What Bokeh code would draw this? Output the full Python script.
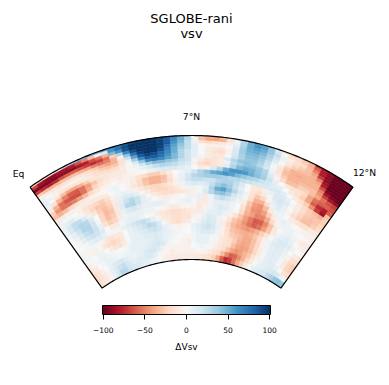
import numpy as np
from bokeh.plotting import figure
from bokeh.models import ColumnDataSource, LinearColorMapper, ColorBar, FixedTicker
from bokeh.core.properties import value
from bokeh.transform import transform
from bokeh.embed import file_html
from bokeh.resources import INLINE

title_lines = ["SGLOBE-rani", "vsv"]
range_labels = ["Eq", "7°N", "12°N"]
cbar_ticks = [-100, -50, 0, 50, 100]
cbar_labels = ["−100", "−50", "0", "50", "100"]
cbar_title = "ΔVsv"

radius_edges = [278,276,273,270,267,264,261,258,255,252,248,244,240,236,232,228,224,220,215,210,205,200,195,190,185,180,175,170,165,160,154]
half_span = 35.5
n_cols = 48

r00 = [-25,-25,-20,-10,5,25,35,45,45,50,55,60, 65,75,85,90,95,100,100,95,85,70,50,35, 5,-25,-35,-40,-30,-15,10,30,50,60,55,40, 10,-20,-25,-25,-30,-35,-75,-85,-90,-100,-100,-100]
r01 = [-70,-85,-90,-90,-85,-85,-80,-65,-50,-30,-5,15, 60,75,90,100,100,100,100,95,85,65,50,30, -5,-30,-40,-40,-35,-15,5,30,50,60,55,40, 20,0,-15,-20,-25,-35,-60,-80,-90,-100,-100,-100]
r02 = [-95,-95,-95,-95,-90,-90,-90,-85,-80,-65,-55,-35, 45,60,88,100,100,100,100,95,85,60,45,25, 5,-15,-20,-15,-10,-5,10,32,50,55,50,38, 25,5,-5,-15,-20,-30,-50,-80,-90,-100,-100,-100]
r03 = [-70,-75,-80,-75,-65,-60,-60,-65,-70,-75,-70,-55, -25,30,65,90,100,100,100,95,75,55,40,25, 10,0,-5,-5,-5,0,15,35,48,50,45,32, 20,5,-10,-20,-25,-30,-40,-70,-90,-100,-100,-100]
r04 = [-25,-30,-35,-35,-30,-30,-30,-35,-40,-50,-55,-50, -35,-5,40,75,95,100,100,90,70,50,35,25, 10,0,-8,-12,-15,-5,15,35,45,45,40,28, 15,0,-15,-25,-30,-30,-35,-50,-85,-100,-100,-100]
r05 = [-5,-8,-12,-15,-15,-12,-12,-15,-20,-25,-35,-40, -35,-15,20,55,85,95,90,80,65,50,30,20, 10,0,-10,-15,-18,-5,18,32,42,42,35,22, 5,-10,-25,-35,-35,-35,-35,-40,-80,-100,-100,-100]
r06 = [5,0,-5,-8,-5,-3,-5,-8,-12,-20,-25,-28, -28,-15,5,35,65,85,85,75,60,45,30,20, 10,0,-8,-12,-12,0,20,32,40,40,32,20, 2,-15,-30,-35,-38,-35,-35,-35,-65,-95,-100,-100]
r07 = [8,5,-5,-12,-15,-15,-12,-8,-10,-15,-18,-20, -18,-10,0,15,40,65,70,65,55,45,30,20, 8,-5,-10,-15,-10,15,30,40,42,38,28,18, 5,-15,-30,-35,-35,-35,-35,-35,-50,-85,-95,-100]
r08 = [10,0,-15,-30,-40,-40,-35,-25,-15,-12,-12,-12, -12,-8,-3,5,20,35,45,45,40,35,25,20, 3,-10,-18,-15,-10,5,25,35,42,42,38,30, 8,-10,-25,-35,-35,-30,-30,-30,-45,-70,-85,-90]
r09 = [5,-15,-35,-50,-60,-62,-55,-42,-28,-18,-12,-10, -10,-8,-3,3,8,15,25,30,28,25,20,15, -5,-18,-22,-15,-10,10,30,45,50,48,40,32, 15,-5,-20,-30,-30,-25,-25,-30,-40,-55,-65,-70]
r10 = [-8,-35,-55,-62,-65,-65,-55,-38,-22,-12,-8,-5, -8,-5,-5,-3,0,5,10,15,15,15,12,8, 0,-8,-5,15,30,50,60,60,58,50,42,35, 22,10,0,-10,-15,-15,-20,-40,-55,-60,-60,-65]
r11 = [-25,-45,-55,-55,-50,-42,-32,-20,-12,-5,-3,0, -5,-5,-8,-15,-20,-25,-25,-18,-8,0,5,10, 20,30,40,50,55,60,55,45,38,32,28,22, 18,12,10,0,-10,-15,-25,-40,-60,-75,-80,-60]
r12 = [-30,-35,-30,-22,-15,-10,-8,-5,-3,0,3,5, 0,-3,-8,-20,-30,-35,-35,-30,-15,-2,8,18, 28,32,35,35,35,32,28,28,25,22,18,15, 15,15,15,10,0,-8,-15,-25,-45,-70,-85,-30]
r13 = [-10,-8,-5,-5,-5,-8,-8,-10,-10,-8,0,5, 0,-5,-12,-20,-28,-35,-35,-28,-18,-5,10,20, 25,25,22,22,28,32,32,25,15,0,-12,-12, -5,8,15,15,8,0,-10,-20,-25,-30,-35,-25]
r14 = [5,3,3,0,-5,-15,-18,-22,-25,-18,-5,5, 8,5,-5,-12,-18,-22,-22,-18,-12,-5,5,12, 15,12,15,25,35,42,35,22,10,0,-12,-18, -10,3,15,18,12,3,-8,-18,-25,-28,-28,-25]
r15 = [5,10,12,5,-3,-12,-22,-28,-28,-22,-8,8, 15,15,8,-2,-10,-18,-22,-22,-18,-12,-5,5, 5,3,10,30,50,55,42,28,15,5,-15,-28, -22,-5,10,15,10,0,-12,-22,-28,-30,-28,-22]
r16 = [5,15,25,25,15,5,-12,-25,-30,-25,-10,10, 22,28,22,10,2,-8,-15,-18,-18,-15,-12,-8, -5,3,15,28,40,42,32,18,10,3,-18,-35, -35,-18,5,12,8,-5,-18,-25,-30,-30,-25,-18]
r17 = [5,15,25,30,28,15,0,-22,-32,-28,-10,12, 28,30,22,10,5,0,-5,-8,-5,-3,0,5, 5,8,-8,5,20,25,20,12,5,-8,-28,-42, -45,-32,-10,5,5,0,-8,-12,-15,-15,-10,-8]
r18 = [3,10,20,30,30,20,3,-22,-30,-25,-10,8, 15,18,12,8,8,10,10,5,0,3,5,8, 3,-8,-10,5,10,10,10,5,0,-15,-32,-45, -48,-42,-25,-8,5,8,5,0,-3,-5,-5,-5]
r19 = [0,5,15,25,28,22,8,-15,-25,-22,-8,5, 8,8,8,5,5,3,-3,-5,-10,-8,-5,-3, -5,-12,-5,5,10,15,12,5,0,-20,-35,-42, -50,-50,-38,-20,-5,5,5,5,3,0,-3,-5]
r20 = [0,3,10,18,22,20,12,0,-10,-8,3,8, 10,10,5,0,-3,-8,-12,-15,-18,-18,-15,-12, -8,-8,5,10,10,12,5,-5,-15,-28,-42,-52, -62,-60,-48,-30,-12,0,5,8,5,-5,-10,-10]
r21 = [0,0,3,8,12,12,8,3,-3,3,8,12, 18,22,25,20,10,3,-8,-12,-15,-18,-15,-15, -5,-3,8,15,12,5,-3,-15,-28,-35,-45,-55, -60,-55,-42,-28,-10,5,10,12,8,0,-5,-8]
r22 = [3,-3,-3,3,3,-5,-12,-15,-10,-10,0,8, 12,15,22,28,25,15,3,-8,-15,-18,-12,-8, 0,5,12,18,15,5,-8,-22,-32,-38,-42,-45, -42,-35,-25,-12,0,10,15,15,12,5,0,-3]
r23 = [5,3,-5,-5,-3,-12,-18,-22,-18,-12,0,8, 10,12,15,20,22,18,10,5,-3,-5,-3,0, 8,12,18,22,18,8,-5,-18,-28,-32,-35,-38, -35,-28,-18,-5,5,12,15,12,8,0,-8,-12]
r24 = [-3,3,0,5,5,0,-8,-15,-15,-8,3,8, 10,10,12,12,15,12,10,8,5,3,0,0, 5,10,15,15,12,5,-5,-15,-25,-28,-32,-38, -38,-30,-20,-5,5,10,12,12,5,-5,-15,-20]
r25 = [-8,-3,3,5,8,5,3,0,0,3,8,10, 8,8,10,12,15,12,8,5,3,0,-3,-3, 3,8,8,8,3,-3,-10,-15,-18,-25,-35,-40, -38,-30,-20,-8,3,10,12,10,3,-8,-22,-25]
r26 = [-12,-8,0,3,8,8,5,3,5,5,8,8, 8,10,12,15,18,15,8,3,0,-3,-5,-8, 3,8,8,8,3,-5,-10,-15,-18,-30,-40,-42, -40,-32,-22,-10,3,10,12,10,3,-10,-22,-25]
r27 = [-18,-12,-5,0,8,12,15,18,12,8,5,8, 10,15,18,18,12,5,-3,-5,-5,-3,-5,-5, 0,3,5,3,-3,-8,-12,-18,-28,-40,-45,-42, -35,-28,-15,-5,5,10,12,12,8,0,-15,-18]
r28 = [-20,-15,-8,-3,8,15,22,25,18,12,10,12, 12,15,15,10,3,-3,-5,-8,-5,-5,-5,-5, -5,-3,-3,-5,-10,-15,-20,-32,-48,-60,-58,-48, -35,-22,-10,0,8,10,12,15,18,15,8,3]
r29 = [-15,-12,-8,-3,8,18,28,28,20,15,15,12, 10,8,5,3,0,-5,-8,-8,-8,-8,-8,-8, -8,-10,-12,-15,-18,-25,-40,-60,-75,-70,-55,-38, -25,-12,0,8,12,15,18,25,32,40,42,38]
rows = [r00,r01,r02,r03,r04,r05,r06,r07,r08,r09,r10,r11,r12,r13,r14,r15,r16,r17,r18,r19,r20,r21,r22,r23,r24,r25,r26,r27,r28,r29]
assert len(rows) == len(radius_edges) - 1
assert all(len(r) == n_cols for r in rows), [len(r) for r in rows]

anchors = ["#67001f","#b2182b","#d6604d","#f4a582","#fddbc7","#f7f7f7","#d1e5f0","#92c5de","#4393c3","#2166ac","#053061"]
rgb = np.array([[int(a[i:i+2], 16) for i in (1, 3, 5)] for a in anchors], float)
t = np.linspace(0, 10, 256)
palette = ["#%02x%02x%02x" % tuple(int(round(np.interp(v, range(11), rgb[:, c]))) for c in range(3)) for v in t]
mapper = LinearColorMapper(palette=palette, low=-101, high=101)

W, H = 381, 377
cx, cy = 191, 385 - 413

p = figure(width=W, height=H, x_range=(0, W), y_range=(385 - H, 385),
           toolbar_location=None, output_backend="svg", min_border=0)
p.xaxis.visible = False
p.yaxis.visible = False
p.grid.visible = False
p.outline_line_color = None

def pol(r, a):
    a = np.radians(a)
    return cx + r * np.sin(a), cy + r * np.cos(a)

edges = np.linspace(-half_span, half_span, n_cols + 1)
xs, ys, vals = [], [], []
for i, row in enumerate(rows):
    r_o, r_i = radius_edges[i], radius_edges[i + 1]
    for j, v in enumerate(row):
        aa = np.linspace(edges[j], edges[j + 1], 3)
        xo, yo = pol(r_o, aa)
        xi, yi = pol(r_i, aa[::-1])
        xs.append(np.r_[xo, xi].tolist())
        ys.append(np.r_[yo, yi].tolist())
        vals.append(v)
src = ColumnDataSource(dict(xs=xs, ys=ys, v=vals))
cm = transform("v", mapper)
p.patches("xs", "ys", source=src, fill_color=cm, line_color=cm, line_width=0.6)

arc_a = np.linspace(-half_span, half_span, 120)
xo, yo = pol(radius_edges[0], arc_a)
xi, yi = pol(radius_edges[-1], arc_a[::-1])
p.line(np.r_[xo, xi, xo[0]], np.r_[yo, yi, yo[0]], line_color="black", line_width=1.2)

def T(x, y, s, size):
    p.text([x], [385 - y], text=[s], text_font=value("DejaVu Sans"), text_font_size=size,
           text_align="center", text_baseline="middle", text_color="#000000")

T(191, 18, title_lines[0], "13px")
T(191, 32.5, title_lines[1], "13px")
T(18, 173, range_labels[0], "9.2px")
T(191, 116, range_labels[1], "9.2px")
T(364, 172, range_labels[2], "9.2px")
T(186, 346.5, cbar_title, "9px")

cb = ColorBar(color_mapper=mapper, orientation="horizontal", width=168, height=9,
              ticker=FixedTicker(ticks=cbar_ticks),
              major_label_overrides=dict(zip(cbar_ticks, cbar_labels)),
              major_label_text_font="DejaVu Sans", major_label_text_font_size="7.5px",
              major_label_text_color="#000000",
              major_tick_in=0, major_tick_out=5, major_tick_line_color="black", major_tick_line_width=1,
              minor_tick_line_color=None, bar_line_color="black", bar_line_width=1,
              label_standoff=7, padding=0, background_fill_color=None, border_line_color=None,
              location=(102, 42))
p.add_layout(cb, "center")

open("out.html", "w").write(file_html(p, INLINE))
